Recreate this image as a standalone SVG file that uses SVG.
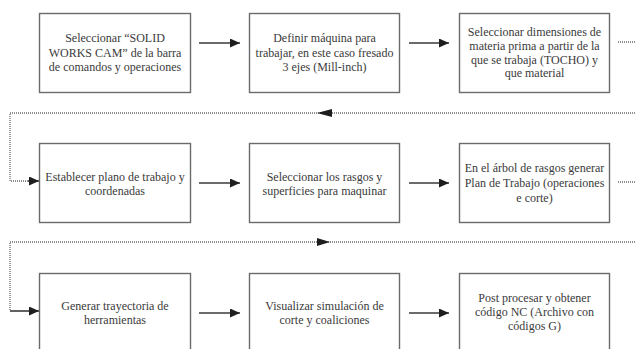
<svg xmlns="http://www.w3.org/2000/svg" width="635" height="349" viewBox="0 0 635 349">
  <defs>
    <style>
      .box { fill: #ffffff; stroke: #6b6b6b; stroke-width: 1.4; }
      .lbl { font-size: 12px; fill: #3a3a3a; text-anchor: middle; }
      .solid { fill: none; stroke: #3a3a3a; stroke-width: 1.6; }
      .dots { fill: none; stroke: #6a6a6a; stroke-width: 1.3; stroke-dasharray: 1 1; }
      .head { fill: #1e1e1e; }
    </style>
    <marker id="arr" markerUnits="userSpaceOnUse" markerWidth="11" markerHeight="9" refX="10" refY="4.5" orient="auto">
      <path d="M0,0 L10,4.5 L0,9 Z" class="head"/>
    </marker>
  </defs>
  <rect width="635" height="349" fill="#ffffff"/>

  <!-- connectors -->
  <g id="connectors">
    <!-- row 1 -->
    <line class="solid" x1="199" y1="43" x2="240" y2="43" marker-end="url(#arr)"/>
    <line class="solid" x1="409" y1="43" x2="449" y2="43" marker-end="url(#arr)"/>
    <line class="dots" x1="618" y1="42" x2="635" y2="42"/>
    <!-- return to row 2 -->
    <path class="dots" d="M635,113 H10 V181 H30"/>
    <line class="solid" x1="28" y1="181" x2="39" y2="181" marker-end="url(#arr)"/>
    <path class="head" d="M317,113 L332,109 L332,117 Z"/>
    <!-- row 2 -->
    <line class="solid" x1="199" y1="183" x2="240" y2="183" marker-end="url(#arr)"/>
    <line class="solid" x1="409" y1="183" x2="449" y2="183" marker-end="url(#arr)"/>
    <line class="dots" x1="618" y1="182" x2="635" y2="182"/>
    <!-- return to row 3 -->
    <path class="dots" d="M635,242 H10 V311"/>
    <path class="head" d="M330,242 L317,238 L317,246 Z"/>
    <path class="solid" d="M10,311 H39" marker-end="url(#arr)"/>
    <!-- row 3 -->
    <line class="solid" x1="199" y1="313" x2="240" y2="313" marker-end="url(#arr)"/>
    <line class="solid" x1="409" y1="313" x2="449" y2="313" marker-end="url(#arr)"/>
  </g>

  <g font-family="'Liberation Serif', Tinos, 'Times New Roman', 'DejaVu Serif', serif">
  <!-- row 1 -->
  <g id="n1">
    <rect class="box" x="39.5" y="13.5" width="151" height="79"/>
    <text class="lbl" x="115" y="42">Seleccionar “SOLID</text>
    <text class="lbl" x="115" y="56.5">WORKS CAM” de la barra</text>
    <text class="lbl" x="115" y="71">de comandos y operaciones</text>
  </g>
  <g id="n2">
    <rect class="box" x="249.5" y="13.5" width="150" height="79"/>
    <text class="lbl" x="324.5" y="42">Definir máquina para</text>
    <text class="lbl" x="324.5" y="56.5">trabajar, en este caso fresado</text>
    <text class="lbl" x="324.5" y="71">3 ejes (Mill-inch)</text>
  </g>
  <g id="n3">
    <rect class="box" x="459.5" y="13.5" width="150" height="79"/>
    <text class="lbl" x="534.5" y="36">Seleccionar dimensiones de</text>
    <text class="lbl" x="534.5" y="49.5">materia prima a partir de la</text>
    <text class="lbl" x="534.5" y="63.5">que se trabaja  (TOCHO) y</text>
    <text class="lbl" x="534.5" y="77">que material</text>
  </g>

  <!-- row 2 -->
  <g id="n4">
    <rect class="box" x="39.5" y="143.5" width="151" height="79"/>
    <text class="lbl" x="115" y="181">Establecer plano de trabajo y</text>
    <text class="lbl" x="115" y="194.5">coordenadas</text>
  </g>
  <g id="n5">
    <rect class="box" x="249.5" y="143.5" width="150" height="79"/>
    <text class="lbl" x="324.5" y="181">Seleccionar los rasgos y</text>
    <text class="lbl" x="324.5" y="194.5">superficies para maquinar</text>
  </g>
  <g id="n6">
    <rect class="box" x="459.5" y="143.5" width="150" height="79"/>
    <text class="lbl" x="534.5" y="172">En el árbol de rasgos generar</text>
    <text class="lbl" x="534.5" y="187">Plan de Trabajo (operaciones</text>
    <text class="lbl" x="534.5" y="202">e corte)</text>
  </g>

  <!-- row 3 -->
  <g id="n7">
    <rect class="box" x="39.5" y="273.5" width="151" height="90"/>
    <text class="lbl" x="115" y="310">Generar trayectoria de</text>
    <text class="lbl" x="115" y="324">herramientas</text>
  </g>
  <g id="n8">
    <rect class="box" x="249.5" y="273.5" width="150" height="90"/>
    <text class="lbl" x="324.5" y="310">Visualizar simulación de</text>
    <text class="lbl" x="324.5" y="324">corte y coaliciones</text>
  </g>
  <g id="n9">
    <rect class="box" x="459.5" y="273.5" width="150" height="90"/>
    <text class="lbl" x="534.5" y="302">Post procesar y obtener</text>
    <text class="lbl" x="534.5" y="316">código NC (Archivo con</text>
    <text class="lbl" x="534.5" y="330">códigos G)</text>
  </g>
  </g>
</svg>
